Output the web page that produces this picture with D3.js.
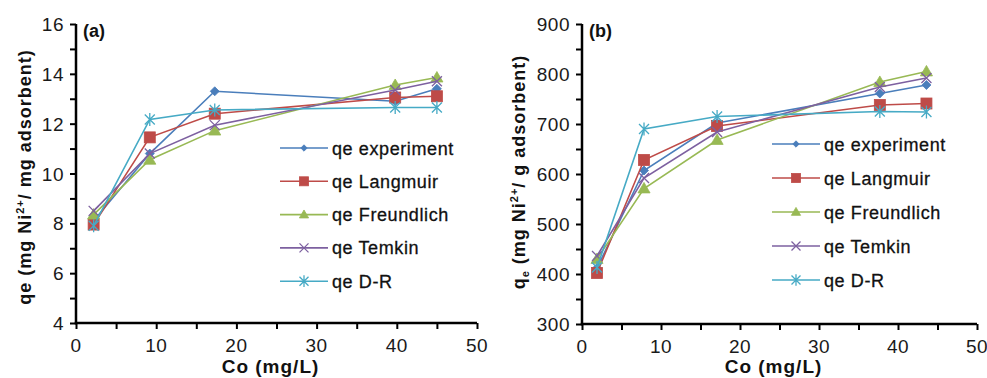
<!DOCTYPE html>
<html><head><meta charset="utf-8">
<script src="https://cdn.jsdelivr.net/npm/d3@7"></script>
<style>
html,body{margin:0;padding:0;background:#fff;}
svg{display:block;font-family:"Liberation Sans",Arial,sans-serif;}
</style></head>
<body>
<svg id="chart" width="987" height="378"></svg>
<script>
// ---------- data ----------
const seriesNames = ["qe experiment", "qe Langmuir", "qe Freundlich", "qe Temkin", "qe D-R"];
const xTicks = [0, 10, 20, 30, 40, 50];

// Panel (a)
const coA = [2.2, 9.2, 17.3, 39.8, 45.0];
const aExperiment = [8.1, 10.8, 13.3, 12.9, 13.4];
const aLangmuir   = [7.95, 11.45, 12.4, 13.05, 13.1];
const aFreundlich = [8.35, 10.55, 11.72, 13.55, 13.85];
const aTemkin     = [8.5, 10.8, 11.94, 13.35, 13.7];
const aDR         = [7.9, 12.17, 12.55, 12.65, 12.65];
const yTicksA = [4, 6, 8, 10, 12, 14, 16];

// Panel (b)
const coB = [1.9, 7.85, 17.1, 37.7, 43.6];
const bExperiment = [412, 607, 702, 761, 778];
const bLangmuir   = [402, 628, 696, 738, 741];
const bFreundlich = [430, 571, 668, 784, 805];
const bTemkin     = [436, 592, 684, 774, 792];
const bDR         = [413, 690, 715, 725, 724];
const yTicksB = [300, 400, 500, 600, 700, 800, 900];

// ---------- style ----------
const colors = ["#4A7EBB", "#BE4B48", "#98B954", "#7D60A0", "#46AAC5"];
const markers = ["diamond", "square", "triangle", "x", "star"];

const panels = [
  { tag: "(a)", xs: coA, ys: [aExperiment, aLangmuir, aFreundlich, aTemkin, aDR],
    yDomain: [4, 16], yTicks: yTicksA, minorY: 1,
    left: 76, right: 477, top: 24, bottom: 323,
    legendX: 280, legendY: 148, legendStep: 33.3, ylabelX: 25, ylabelY: 177, sub: false },
  { tag: "(b)", xs: coB, ys: [bExperiment, bLangmuir, bFreundlich, bTemkin, bDR],
    yDomain: [300, 900], yTicks: yTicksB, minorY: 50,
    left: 582, right: 977, top: 24, bottom: 324,
    legendX: 772, legendY: 144, legendStep: 34, ylabelX: 519, ylabelY: 172, sub: true }
];

const svg = d3.select("#chart");

function drawMarker(g, type, x, y, color, s) {
  if (type === "diamond") {
    g.append("path").attr("d", `M${x},${y - s}L${x + s},${y}L${x},${y + s}L${x - s},${y}Z`)
      .attr("fill", color).attr("stroke", color).attr("stroke-width", 0.8);
  } else if (type === "square") {
    g.append("rect").attr("x", x - s).attr("y", y - s).attr("width", 2 * s).attr("height", 2 * s)
      .attr("fill", color).attr("stroke", color).attr("stroke-width", 0.8);
  } else if (type === "triangle") {
    g.append("path").attr("d", `M${x},${y - s * 1.1}L${x + s * 1.1},${y + s * 0.8}L${x - s * 1.1},${y + s * 0.8}Z`)
      .attr("fill", color).attr("stroke", color).attr("stroke-width", 0.8);
  } else if (type === "x") {
    g.append("path").attr("d", `M${x - s},${y - s}L${x + s},${y + s}M${x - s},${y + s}L${x + s},${y - s}`)
      .attr("stroke", color).attr("stroke-width", 1.3).attr("fill", "none");
  } else if (type === "star") {
    g.append("path").attr("d", `M${x - s},${y - s}L${x + s},${y + s}M${x - s},${y + s}L${x + s},${y - s}M${x},${y - s * 1.3}L${x},${y + s * 1.3}`)
      .attr("stroke", color).attr("stroke-width", 1.3).attr("fill", "none");
  }
}

const markerSize = [4.5, 5.5, 5.5, 5, 5];
const legendMarkerSize = [3.2, 4.5, 4.2, 4.5, 4.5];

panels.forEach(p => {
  const x = d3.scaleLinear().domain([0, 50]).range([p.left, p.right]);
  const y = d3.scaleLinear().domain(p.yDomain).range([p.bottom, p.top]);
  const g = svg.append("g");

  // x axis
  const xAxis = d3.axisBottom(x).tickValues(d3.range(0, 50.01, 5)).tickSize(6).tickFormat("");
  const gx = g.append("g").attr("transform", `translate(0,${p.bottom})`).call(xAxis);
  gx.select(".domain").attr("stroke", "#000").attr("stroke-width", 2.5).attr("d", `M${p.left - 1.25},0H${p.right}`);
  gx.selectAll(".tick line").attr("stroke", "#000").attr("stroke-width", 2);
  g.append("g").selectAll("text").data(xTicks).join("text")
    .attr("x", d => x(d)).attr("y", p.bottom + 29)
    .attr("text-anchor", "middle").attr("font-size", 19).attr("fill", "#1a1a1a")
    .attr("letter-spacing", 0.5)
    .text(d => d);

  // y axis
  const yAxis = d3.axisLeft(y).tickValues(d3.range(p.yDomain[0], p.yDomain[1] + 0.001, p.minorY)).tickSize(6).tickFormat("");
  const gy = g.append("g").attr("transform", `translate(${p.left},0)`).call(yAxis);
  gy.select(".domain").attr("stroke", "#000").attr("stroke-width", 2.5).attr("d", `M0,${p.top}V${p.bottom + 1.25}`);
  gy.selectAll(".tick line").attr("stroke", "#000").attr("stroke-width", 2);
  g.append("g").selectAll("text").data(p.yTicks).join("text")
    .attr("x", p.left - 12).attr("y", d => y(d) + 7)
    .attr("text-anchor", "end").attr("font-size", 19).attr("fill", "#1a1a1a")
    .attr("letter-spacing", 0.5)
    .text(d => d);

  // series lines then markers
  p.ys.forEach((vals, i) => {
    const pts = vals.map((v, k) => [x(p.xs[k]), y(v)]);
    g.append("path").attr("d", d3.line()(pts)).attr("fill", "none")
      .attr("stroke", colors[i]).attr("stroke-width", 1.6);
    pts.forEach(pt => drawMarker(g, markers[i], pt[0], pt[1], colors[i], markerSize[i]));
  });

  // legend
  seriesNames.forEach((name, i) => {
    const ly = p.legendY + i * p.legendStep;
    g.append("line").attr("x1", p.legendX).attr("x2", p.legendX + 48).attr("y1", ly).attr("y2", ly)
      .attr("stroke", colors[i]).attr("stroke-width", 1.6);
    drawMarker(g, markers[i], p.legendX + 24, ly, colors[i], legendMarkerSize[i]);
    g.append("text").attr("x", p.legendX + 52).attr("y", ly + 6.5)
      .attr("font-size", 18).attr("fill", "#111").attr("letter-spacing", 0.6)
      .attr("stroke", "#111").attr("stroke-width", 0.3)
      .text(name);
  });

  // panel tag
  g.append("text").attr("x", p.left + 7).attr("y", p.top + 13).attr("font-size", 18)
    .attr("font-weight", "bold").attr("fill", "#111").text(p.tag);

  // x label
  g.append("text").attr("x", (p.left + p.right) / 2 - 6).attr("y", 373)
    .attr("text-anchor", "middle").attr("font-size", 19).attr("font-weight", "bold")
    .attr("letter-spacing", 1).attr("fill", "#111").text("Co (mg/L)");

  // y label
  const yl = g.append("text").attr("transform", `translate(${p.ylabelX + 6},${p.ylabelY}) rotate(-90)`)
    .attr("text-anchor", "middle").attr("font-size", 18).attr("font-weight", "bold").attr("fill", "#111")
    .attr("letter-spacing", 1);
  if (p.sub) {
    yl.append("tspan").text("q");
    yl.append("tspan").attr("font-size", 11).attr("dy", 4).text("e");
    yl.append("tspan").attr("dy", -4).text(" (mg Ni");
  } else {
    yl.append("tspan").text("qe (mg Ni");
  }
  yl.append("tspan").attr("font-size", 11).attr("dy", -7).text("2+");
  yl.append("tspan").attr("dy", 7).text(p.sub ? "/ g adsorbent)" : "/ mg adsorbent)");
});
</script>
</body></html>
